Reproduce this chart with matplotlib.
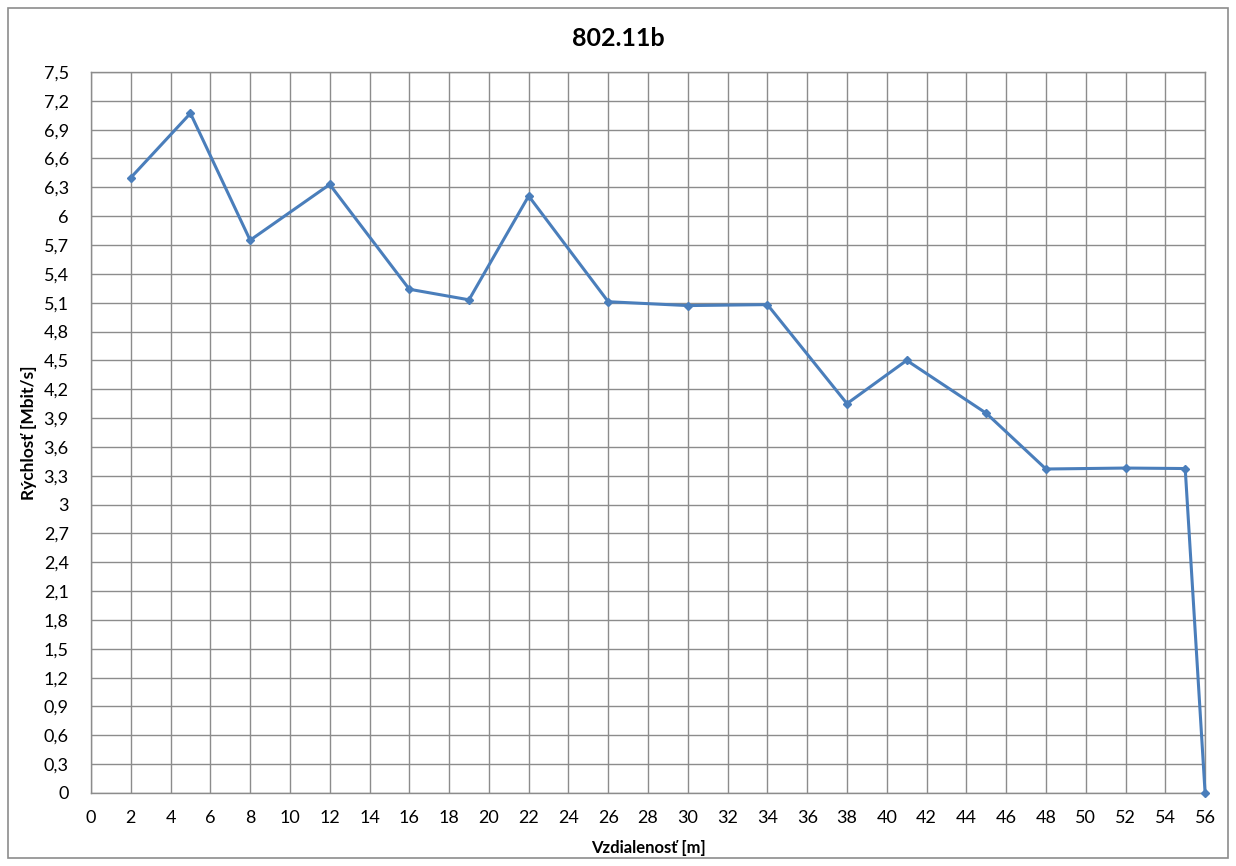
import matplotlib
matplotlib.use("Agg")
import matplotlib.pyplot as plt
from matplotlib.patches import Rectangle
from matplotlib.ticker import FuncFormatter, MultipleLocator

plt.rcParams['font.family'] = ['Lato', 'DejaVu Sans']

# vzdialenost [m] a rychlost [Mbit/s]
vzdialenost = [2, 5, 8, 12, 16, 19, 22, 26, 30, 34, 38, 41, 45, 48, 52, 55, 56]
rychlost = [6.40, 7.07, 5.75, 6.33, 5.24, 5.13, 6.21, 5.11, 5.07, 5.08,
            4.05, 4.50, 3.95, 3.37, 3.38, 3.375, 0.0]

fig = plt.figure(figsize=(12.36, 8.66), dpi=100)
ax = fig.add_axes([0.0736, 0.0843, 0.9014, 0.8326])

ax.plot(vzdialenost, rychlost, color='#4A7EBB', linewidth=2.2,
        marker='D', markersize=4, zorder=3, clip_on=False)

ax.set_xlim(0, 56)
ax.set_ylim(0, 7.5)
ax.xaxis.set_major_locator(MultipleLocator(2))
ax.yaxis.set_major_locator(MultipleLocator(0.3))

def carka(v, pos):
    s = ('%.1f' % v).rstrip('0').rstrip('.')
    return s.replace('.', ',')

ax.yaxis.set_major_formatter(FuncFormatter(carka))
ax.xaxis.set_major_formatter(FuncFormatter(lambda v, p: '%d' % round(v)))

ax.grid(True, color='#8c8c8c', linewidth=1.0)
ax.set_axisbelow(True)
for s in ax.spines.values():
    s.set_color('#8c8c8c')
    s.set_linewidth(1.0)
ax.tick_params(length=0, labelsize=13, pad=12)
ax.tick_params(axis='y', pad=16)

# nadpis je vycentrovany na celu plochu, nie na graf
fig.text(0.5, 1 - 38 / 866, '802.11b', fontsize=18, fontweight='bold',
         ha='center', va='center')
ax.set_xlabel('Vzdialenosť [m]', fontsize=12, fontweight='bold', labelpad=10)
ax.set_ylabel('Rýchlosť [Mbit/s]', fontsize=12.5, fontweight='bold', labelpad=5)

fig.patches.append(Rectangle((8 / 1236, 8 / 866), 1220 / 1236, 850 / 866,
                             transform=fig.transFigure, fill=False,
                             edgecolor='#8c8c8c', linewidth=1.2))

fig.savefig('out.png', dpi=100)
